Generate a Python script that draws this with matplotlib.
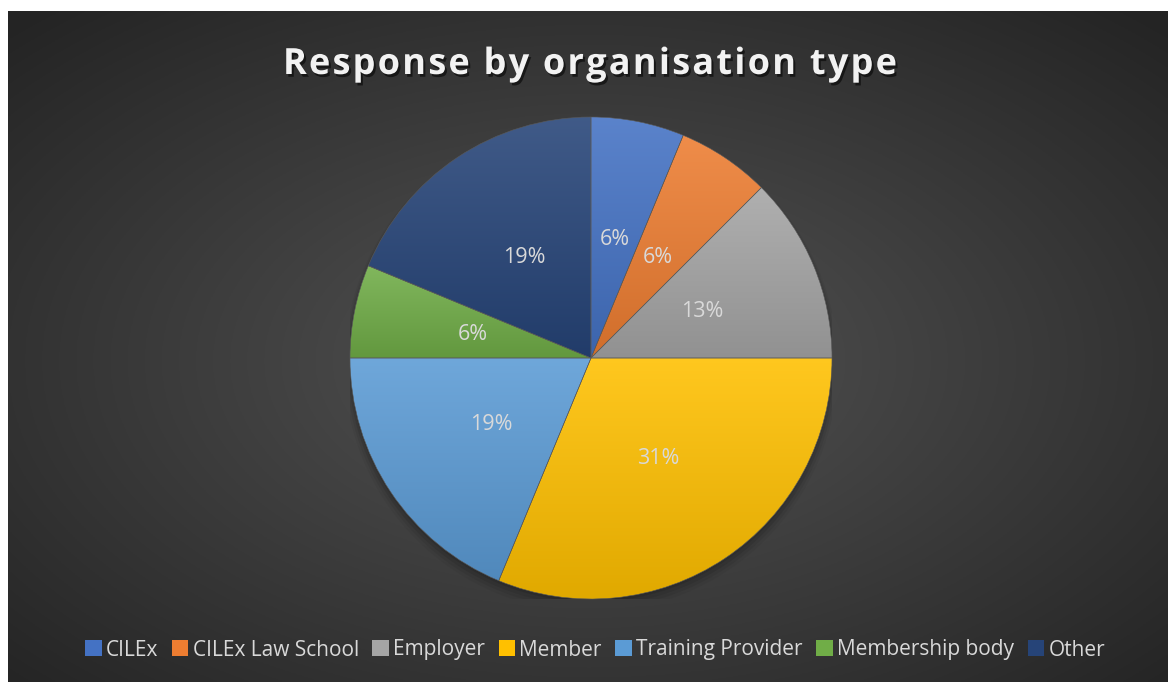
import numpy as np
import matplotlib
matplotlib.use("Agg")
import matplotlib.pyplot as plt
import matplotlib.patheffects as pe
import matplotlib.patches as mpatches
from matplotlib.colors import to_rgb
from matplotlib.font_manager import FontProperties

# Data
categories = ["CILEx", "CILEx Law School", "Employer", "Member",
              "Training Provider", "Membership body", "Other"]
responses = [1, 1, 2, 5, 3, 1, 3]
colors = ["#4472C4", "#ED7D31", "#A5A5A5", "#FFC000",
          "#5B9BD5", "#70AD47", "#264478"]
title = "Response by organisation type"

W, H = 1168, 682
fig = plt.figure(figsize=(W / 100, H / 100), dpi=100)
fig.patch.set_facecolor("white")

# Chart area with radial gradient background
bg_ax = fig.add_axes([8 / W, 0, (W - 8) / W, (H - 11) / H])
bg_ax.set_axis_off()
ny, nx = 300, 520
yy, xx = np.mgrid[0:ny, 0:nx]
cx, cy = nx * 0.5, ny * 0.52
d = np.sqrt(((xx - cx) / (nx * 0.5)) ** 2 + ((yy - cy) / (ny * 0.5)) ** 2) / np.sqrt(2)
d = np.clip(d, 0, 1)
inner = np.array(to_rgb("#545454"))
outer = np.array(to_rgb("#242424"))
img = inner[None, None, :] * (1 - d[..., None]) + outer[None, None, :] * d[..., None]
bg_ax.imshow(img, aspect="auto", extent=[0, 1, 0, 1], origin="upper")
bg_ax.set_xlim(0, 1)
bg_ax.set_ylim(0, 1)

# Title, drawn char by char to get the wide letter spacing
title_fp = FontProperties(family=["Open Sans", "DejaVu Sans"], weight="bold", size=26)
renderer = fig.canvas.get_renderer()


def text_w(s):
    return renderer.get_text_width_height_descent(s, title_fp, ismath=False)[0]


space_w = text_w("a a") - text_w("aa")
advances = [space_w if ch == " " else text_w(ch) for ch in title]
target_w = 614
spacing = (target_w - sum(advances)) / (len(title) - 1)
x = 590 - target_w / 2
shadow = [pe.SimplePatchShadow(offset=(1.5, -2), shadow_rgbFace="black", alpha=0.55), pe.Normal()]
for ch, adv in zip(title, advances):
    if ch != " ":
        fig.text(x / W, 1 - 74 / H, ch, ha="left", va="baseline", color="#F2F2F2",
                 fontproperties=title_fp, path_effects=shadow)
    x += adv + spacing

# Pie
r_px = 241
pcx, pcy = 591, 358
ax = fig.add_axes([(pcx - r_px) / W, (H - pcy - r_px) / H, 2 * r_px / W, 2 * r_px / H])
ax.set_axis_off()

# soft shadow under the pie
for k, a in enumerate([0.10, 0.08, 0.06, 0.04]):
    ax.add_patch(mpatches.Circle((0, -0.012 - k * 0.006), 1.0 + k * 0.008,
                                 color="black", alpha=a, lw=0, zorder=0))

wedges, texts, autotexts = ax.pie(
    responses, colors=colors, startangle=90, counterclock=False,
    autopct=lambda p: f"{int(p + 0.5)}%", pctdistance=0.5, radius=1,
    wedgeprops=dict(edgecolor="#5a5a5a", linewidth=0.4),
    textprops=dict(color="#D9D9D9", fontsize=15.5, family=["Open Sans", "DejaVu Sans"]))

# vertical gradient fill in each slice (lighter top, darker bottom)
for w, c in zip(wedges, colors):
    base = np.array(to_rgb(c))
    top = base + (1 - base) * 0.12
    bot = base * 0.88
    t = np.linspace(0, 1, 256)[:, None]
    grad = top[None, :] * (1 - t) + bot[None, :] * t
    grad = np.repeat(grad[:, None, :], 2, axis=1)
    ext = w.get_path().get_extents(w.get_patch_transform())
    im = ax.imshow(grad, extent=[ext.x0, ext.x1, ext.y0, ext.y1], origin="upper",
                   aspect="auto", zorder=1.5)
    im.set_clip_path(w)
    w.set_zorder(2)
    w.set_facecolor("none")
for t in autotexts:
    t.set_zorder(5)
ax.set_xlim(-1, 1)
ax.set_ylim(-1, 1)

# Legend
handles = [mpatches.Patch(facecolor=c, edgecolor="none", label=l)
           for c, l in zip(colors, categories)]
leg = fig.legend(handles=handles, loc="center", bbox_to_anchor=(595 / W, 1 - 650 / H),
                 ncol=7, frameon=False, handlelength=0.8, handleheight=0.8,
                 handletextpad=0.2, columnspacing=0.65,
                 prop=dict(family=["Open Sans", "DejaVu Sans"], size=15))
for txt in leg.get_texts():
    txt.set_color("#D9D9D9")

fig.savefig("out.png", dpi=100)
